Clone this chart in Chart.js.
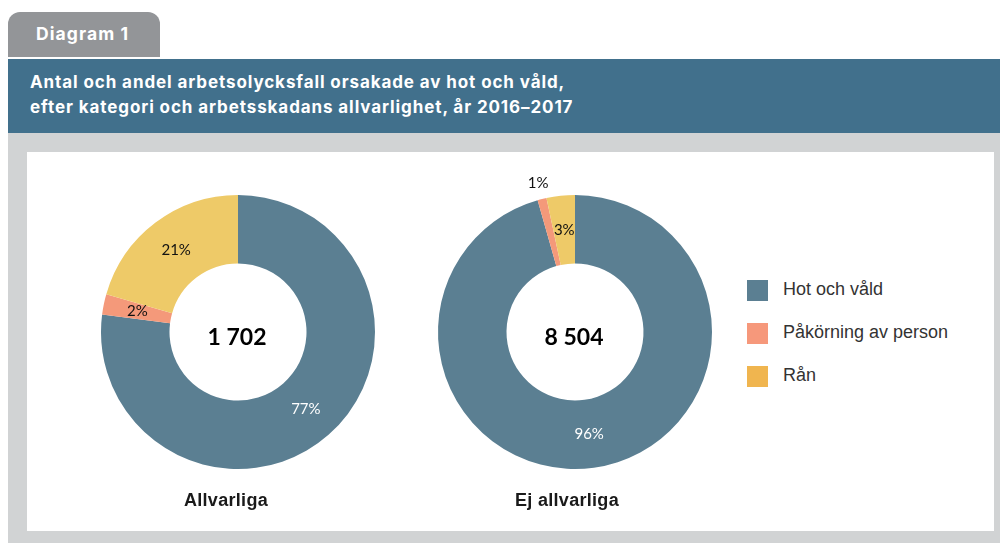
<!DOCTYPE html>
<html lang="sv">
<head>
<meta charset="utf-8">
<title>Diagram 1</title>
<script src="https://cdn.jsdelivr.net/npm/chart.js@4"></script>
<style>
  body { margin: 0; width: 1000px; height: 543px; background: #fff; position: relative; overflow: hidden; font-family: "Liberation Sans", Arial, sans-serif; }
  .tab { position: absolute; left: 8px; top: 12px; width: 152px; height: 45px; background: #939598; border-radius: 12px 12px 0 0; }
  .tab span { position: absolute; left: 28px; top: 11px; color: #fff; font-weight: bold; font-size: 17.5px; letter-spacing: 1.1px; font-family: Inter, "Liberation Sans", sans-serif; }
  .header { position: absolute; left: 8px; top: 59px; width: 992px; height: 74px; background: #41708c; color: #fff; font-weight: bold; font-size: 17px; line-height: 25px; letter-spacing: 0.9px; font-family: Inter, "Liberation Sans", sans-serif; }
  .header div { position: absolute; left: 22px; top: 11px; }
  .panel { position: absolute; left: 8px; top: 133px; width: 992px; height: 410px; background: #d1d3d4; }
  .inner { position: absolute; left: 27px; top: 152px; width: 967px; height: 379px; background: #fff; }
  canvas { position: absolute; }
  .cap { position: absolute; top: 490px; width: 200px; text-align: center; font-weight: bold; font-size: 18px; letter-spacing: 0.3px; color: #1a1a1a; }
  .legend { position: absolute; left: 747px; top: 280px; }
  .legend .item { position: relative; height: 43px; }
  .legend .box { position: absolute; left: 0; top: 0; width: 21px; height: 21px; }
  .legend .txt { position: absolute; left: 36px; top: -1px; font-size: 18px; color: #333; white-space: nowrap; }
</style>
</head>
<body>
<div class="tab"><span>Diagram 1</span></div>
<div class="header"><div>Antal och andel arbetsolycksfall orsakade av hot och våld,<br>efter kategori och arbetsskadans allvarlighet, år 2016–2017</div></div>
<div class="panel"></div>
<div class="inner"></div>

<canvas id="leftChart" width="320" height="320" style="left:78px; top:172px;"></canvas>
<canvas id="rightChart" width="320" height="320" style="left:415px; top:172px;"></canvas>
<div class="cap" id="capLeft" style="left:126px;"></div>
<div class="cap" id="capRight" style="left:467px;"></div>
<div class="legend" id="legend"></div>

<script>
// Data
const categories = ['Hot och våld', 'Påkörning av person', 'Rån'];
const allvarliga = [1311, 41, 350];
const ejAllvarliga = [8130, 90, 284];
const chartTitles = ['Allvarliga', 'Ej allvarliga'];

// Styles
const sliceColors = ['#5b7f92', '#f4997a', '#eeca68'];
const legendColors = ['#5b7f92', '#f6987b', '#f0b54f'];
const labelColors = ['#ffffff', '#111111', '#111111'];

function formatTotal(n) {
  return String(n).replace(/\B(?=(\d{3})+(?!\d))/g, ' ');
}

//Percent labels on the slices + total in the hole
const doughnutLabels = {
  id: 'doughnutLabels',
  afterDatasetsDraw(chart) {
    const ctx = chart.ctx;
    const values = chart.data.datasets[0].data;
    const total = values.reduce((a, b) => a + b, 0);
    const arcs = chart.getDatasetMeta(0).data;
    ctx.save();
    ctx.textAlign = 'center';
    ctx.textBaseline = 'middle';
    arcs.forEach((arc, i) => {
      const p = arc.getProps(['x', 'y', 'startAngle', 'endAngle', 'innerRadius', 'outerRadius'], true);
      const pct = values[i] / total * 100;
      const mid = (p.startAngle + p.endAngle) / 2;
      let r = (p.innerRadius + p.outerRadius) / 2;
      let color = labelColors[i];
      if (pct < 2) {
        r = p.outerRadius + 16;
        color = '#111111';
      }
      ctx.font = '15px Lato, "Open Sans", sans-serif';
      ctx.fillStyle = color;
      ctx.fillText(Math.round(pct) + '%', p.x + Math.cos(mid) * r, p.y + Math.sin(mid) * r);
    });
    const c = arcs[0];
    ctx.font = 'bold 23px Lato, "Open Sans", sans-serif';
    ctx.fillStyle = '#000';
    ctx.fillText(formatTotal(total), c.x - 1, c.y + 6);
    ctx.restore();
  }
};

function makeDoughnut(id, values) {
  const ctx = document.getElementById(id).getContext('2d');
  return new Chart(ctx, {
    type: 'doughnut',
    data: {
      labels: categories,
      datasets: [{
        data: values,
        backgroundColor: sliceColors,
        borderWidth: 0
      }]
    },
    options: {
      responsive: false,
      animation: false,
      cutout: '50%',
      layout: { padding: 23 },
      plugins: {
        legend: { display: false },
        tooltip: { enabled: false }
      }
    },
    plugins: [doughnutLabels]
  });
}

const leftChart = makeDoughnut('leftChart', allvarliga);
const rightChart = makeDoughnut('rightChart', ejAllvarliga);

document.getElementById('capLeft').textContent = chartTitles[0];
document.getElementById('capRight').textContent = chartTitles[1];

//Legend
const legend = document.getElementById('legend');
categories.forEach((name, i) => {
  const item = document.createElement('div');
  item.className = 'item';
  item.innerHTML = `<div class="box" style="background:${legendColors[i]}"></div><div class="txt">${name}</div>`;
  legend.appendChild(item);
});
</script>
</body>
</html>
